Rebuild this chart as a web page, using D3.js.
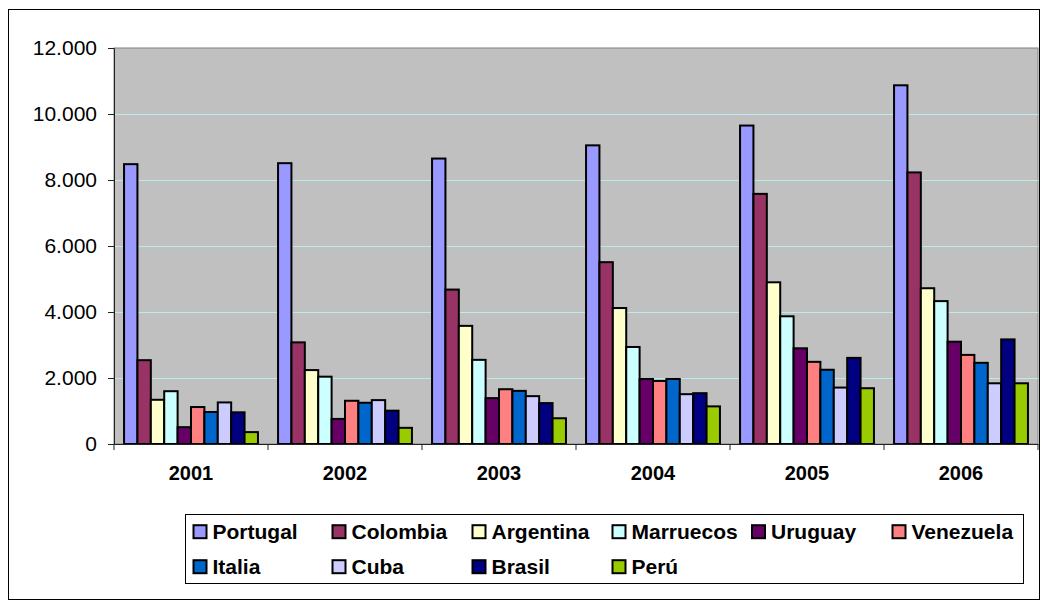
<!DOCTYPE html>
<html>
<head>
<meta charset="utf-8">
<script src="https://cdn.jsdelivr.net/npm/d3@7/dist/d3.min.js"></script>
<style>
  html, body { margin: 0; padding: 0; background: #fff; }
  svg { display: block; }
  text { font-family: "Liberation Sans", Arial, sans-serif; fill: #000; }
</style>
</head>
<body>
<svg id="chart" width="1046" height="608"></svg>
<script>
// Years on the category axis
const years = ["2001", "2002", "2003", "2004", "2005", "2006"];

// Countries (one series each) and their fill colours
const countries = ["Portugal", "Colombia", "Argentina", "Marruecos", "Uruguay",
                   "Venezuela", "Italia", "Cuba", "Brasil", "Perú"];
const colors = ["#9999FF", "#993366", "#FFFFCC", "#CCFFFF", "#660066",
                "#FF8080", "#0066CC", "#CCCCFF", "#000080", "#99CC00"];

// Values per country, one per year 2001–2006
const portugal  = [8480, 8510, 8650, 9050, 9650, 10870];
const colombia  = [2540, 3080, 4680, 5510, 7580, 8230];
const argentina = [1340, 2240, 3580, 4120, 4900, 4720];
const marruecos = [1600, 2040, 2550, 2940, 3870, 4330];
const uruguay   = [510, 760, 1390, 1970, 2900, 3100];
const venezuela = [1120, 1310, 1660, 1910, 2490, 2700];
const italia    = [970, 1250, 1610, 1970, 2250, 2460];
const cuba      = [1260, 1330, 1450, 1510, 1710, 1840];
const brasil    = [960, 1010, 1240, 1540, 2610, 3170];
const peru      = [360, 490, 780, 1140, 1690, 1840];

// Y axis ticks
const yTicks = [0, 2000, 4000, 6000, 8000, 10000, 12000];

const seriesValues = [portugal, colombia, argentina, marruecos, uruguay,
                      venezuela, italia, cuba, brasil, peru];

const svg = d3.select("#chart");

// Chart frame
svg.append("rect")
  .attr("x", 8.5).attr("y", 9.5)
  .attr("width", 1031).attr("height", 590)
  .attr("fill", "#fff").attr("stroke", "#000").attr("stroke-width", 1);

const plot = { left: 114, right: 1038, top: 48, bottom: 444 };

const x0 = d3.scaleBand().domain(years).range([plot.left, plot.right])
  .paddingInner(0).paddingOuter(0);
const x1 = d3.scaleBand().domain(countries).range([0, x0.bandwidth()])
  .paddingInner(0).paddingOuter(0.75);
const y = d3.scaleLinear().domain([0, 12000]).range([plot.bottom, plot.top]);
const color = d3.scaleOrdinal().domain(countries).range(colors);

// Plot area background
svg.append("rect")
  .attr("x", plot.left).attr("y", plot.top)
  .attr("width", plot.right - plot.left).attr("height", plot.bottom - plot.top)
  .attr("fill", "#C0C0C0").attr("stroke", "#808080").attr("stroke-width", 1);

// Horizontal gridlines
svg.append("g")
  .selectAll("line")
  .data(yTicks.filter(d => d > 0 && d < 12000))
  .join("line")
  .attr("x1", plot.left).attr("x2", plot.right)
  .attr("y1", d => Math.round(y(d)) + 0.5).attr("y2", d => Math.round(y(d)) + 0.5)
  .attr("stroke", "#B8EDED").attr("stroke-width", 1);

// Bars
const rows = years.map((yr, i) => ({
  year: yr,
  values: countries.map((c, j) => ({ country: c, value: seriesValues[j][i] }))
}));

svg.append("g")
  .selectAll("g")
  .data(rows)
  .join("g")
  .attr("transform", d => `translate(${x0(d.year)},0)`)
  .selectAll("rect")
  .data(d => d.values)
  .join("rect")
  .attr("x", d => x1(d.country))
  .attr("y", d => y(d.value))
  .attr("width", x1.bandwidth())
  .attr("height", d => y(0) - y(d.value))
  .attr("fill", d => color(d.country))
  .attr("stroke", "#000")
  .attr("stroke-width", 2);

// Y axis
const yAxis = d3.axisLeft(y)
  .tickValues(yTicks)
  .tickSize(6)
  .tickPadding(11)
  .tickFormat(d => d3.format(",")(d).replace(/,/g, "."));

const yg = svg.append("g")
  .attr("transform", `translate(${plot.left},0)`)
  .call(yAxis);
yg.select(".domain").attr("stroke", "#222");
yg.selectAll(".tick line").attr("stroke", "#222");
yg.selectAll(".tick text")
  .style("font-size", "21px")
  .attr("fill", "#000");

// X axis
const xAxis = d3.axisBottom(x0).tickSize(0).tickPadding(22);
const xg = svg.append("g")
  .attr("transform", `translate(0,${plot.bottom})`)
  .call(xAxis);
xg.select(".domain").attr("stroke", "#222");
xg.selectAll(".tick text")
  .style("font-size", "20px")
  .style("font-weight", "bold")
  .attr("fill", "#000");

// Category separator ticks below the axis
const bounds = years.map(d => x0(d)).concat([plot.right]);
xg.append("g")
  .selectAll("line")
  .data(bounds)
  .join("line")
  .attr("x1", d => d).attr("x2", d => d)
  .attr("y1", 0).attr("y2", 6)
  .attr("stroke", "#222");

// Legend
const legend = svg.append("g");
legend.append("rect")
  .attr("x", 185.5).attr("y", 514.5)
  .attr("width", 838).attr("height", 69)
  .attr("fill", "#fff").attr("stroke", "#000").attr("stroke-width", 1);

const colX = [193.5, 332.5, 472.5, 612.5, 752, 892.5];
const rowY = [531.7, 566.7];

const items = legend.selectAll("g.item")
  .data(countries)
  .join("g")
  .attr("class", "item")
  .attr("transform", (d, i) => `translate(${colX[i % 6]},${rowY[Math.floor(i / 6)]})`);

items.append("rect")
  .attr("x", 0).attr("y", -6.5)
  .attr("width", 13).attr("height", 13)
  .attr("fill", d => color(d))
  .attr("stroke", "#000").attr("stroke-width", 2);

items.append("text")
  .attr("x", 19).attr("y", 7.5)
  .style("font-size", "21px")
  .style("font-weight", "bold")
  .text(d => d);
</script>
</body>
</html>
